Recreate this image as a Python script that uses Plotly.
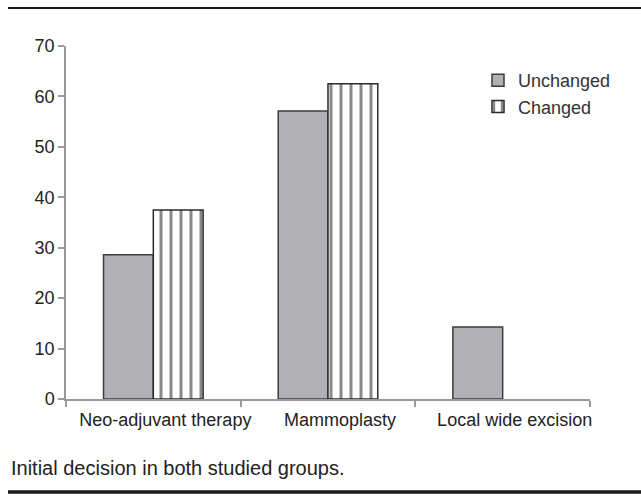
import plotly.graph_objects as go

# Share of patients per initial decision (%)
categories = ["Neo-adjuvant therapy", "Mammoplasty", "Local wide excision"]
unchanged = [28.6, 57.1, 14.3]
changed = [37.5, 62.5, 0]
y_ticks = [0, 10, 20, 30, 40, 50, 60, 70]
caption = "Initial decision in both studied groups."

W, H = 641, 496
L, R, T, B = 66, 51, 46, 97
PW, PH = W - L - R, H - T - B


def px_x(x):
    return (x - L) / PW


def px_y(y):
    return (H - B - y) / PH


FONT = "Liberation Sans, Arial, sans-serif"

# no outline on empty (zero-height) bars
changed_edge = [1.5 if v > 0 else 0 for v in changed]

fig = go.Figure()
fig.add_trace(go.Bar(
    name="Unchanged", x=categories, y=unchanged,
    marker=dict(color="#b1b1b5", line=dict(color="#3c3c3c", width=1.5)),
))
fig.add_trace(go.Bar(
    name="Changed", x=categories, y=changed,
    marker=dict(
        color="white",
        line=dict(color="#2a2a2a", width=changed_edge),
        pattern=dict(shape="|", fgcolor="#111111", bgcolor="white",
                     size=10, solidity=0.3),
    ),
))

fig.update_layout(
    width=W, height=H,
    margin=dict(l=L, r=R, t=T, b=B, autoexpand=False),
    paper_bgcolor="white", plot_bgcolor="white",
    barmode="group", bargap=0.43, bargroupgap=0,
    font=dict(family=FONT, size=18, color="#222222"),
    showlegend=True,
    legend=dict(x=px_x(478), y=px_y(62), xanchor="left", yanchor="top",
                font=dict(size=18, color="#333333"), itemwidth=30,
                bgcolor="rgba(0,0,0,0)", tracegroupgap=0),
    xaxis=dict(showline=True, linecolor="#9a9a9a", linewidth=1.5,
               ticks="outside", tickson="boundaries", ticklen=6,
               tickcolor="#9a9a9a", tickwidth=1.5, showgrid=False,
               tickangle=0, automargin=False, ticklabelstandoff=4,
               ticklabelshift=12,
               tickfont=dict(size=18, color="#222222")),
    yaxis=dict(range=[0, 70], tickvals=y_ticks, showline=True,
               linecolor="#9a9a9a", linewidth=1.5, ticks="outside",
               ticklen=6, tickcolor="#9a9a9a", tickwidth=1.5,
               showgrid=False, zeroline=False, automargin=False,
               tickfont=dict(size=18, color="#222222")),
    shapes=[
        dict(type="line", xref="paper", yref="paper",
             x0=px_x(8), x1=px_x(641), y0=px_y(8), y1=px_y(8),
             line=dict(color="#1a1a1a", width=2)),
        dict(type="line", xref="paper", yref="paper",
             x0=px_x(8), x1=px_x(641), y0=px_y(492), y1=px_y(492),
             line=dict(color="#1a1a1a", width=3.5)),
    ],
    annotations=[
        dict(text=caption, xref="paper", yref="paper",
             x=px_x(9), y=px_y(468), xanchor="left", yanchor="middle",
             showarrow=False, font=dict(size=20, color="#222222")),
    ],
)

fig.write_html("out.html")
